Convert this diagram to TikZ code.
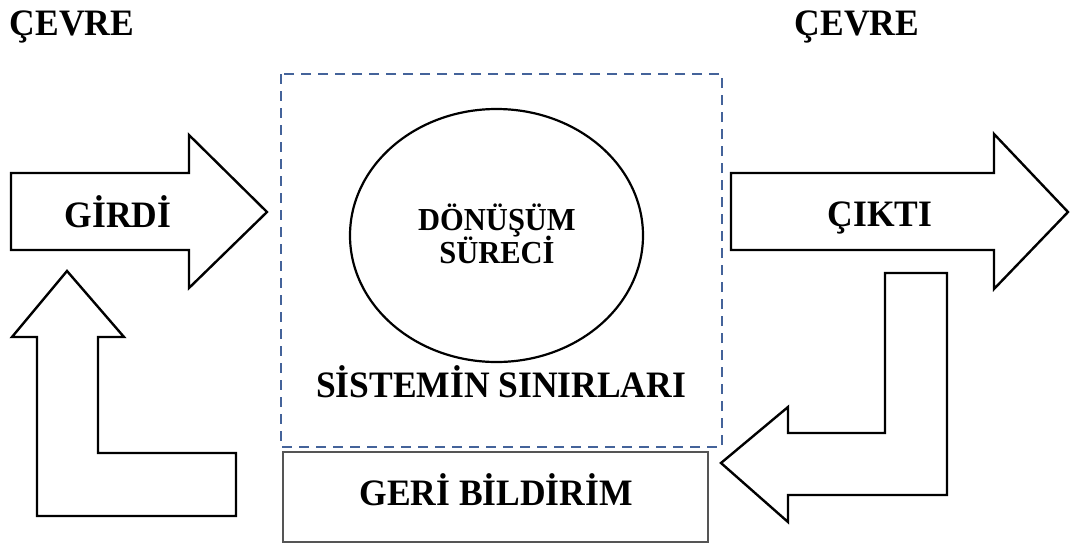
\documentclass[tikz,border=0pt]{standalone}
\usepackage{fontspec}
\setmainfont{Liberation Serif}
\usetikzlibrary{shapes.geometric}
\definecolor{dashblue}{HTML}{44639A}
\definecolor{boxgray}{HTML}{555555}
\tikzset{
  blockarrow/.style={draw=black, line width=2.4pt, fill=white, line join=miter},
  bigtxt/.style={font=\fontsize{35.5}{40}\selectfont\bfseries, anchor=base, inner sep=0pt, yscale=1.05},
  midtxt/.style={font=\fontsize{30.5}{33}\selectfont\bfseries, anchor=base, inner sep=0pt, yscale=1.05},
}
\begin{document}
\begin{tikzpicture}[x=1pt,y=-1pt]
\useasboundingbox (0,0) rectangle (1070,544);
% system boundary
\draw[dashblue, line width=2.3pt, dash pattern=on 10pt off 7pt] (281,74) rectangle (722,447);
% feedback box
\draw[boxgray, line width=1.5pt] (283,452) rectangle (708,542);
% transformation ellipse
\node[ellipse, draw, line width=2.2pt, minimum width=293pt, minimum height=253pt, inner sep=0pt] (donusum) at (496.5,235.5) {};
% input arrow
\draw[blockarrow] (11,173) -- (189,173) -- (189,135) -- (267,212) -- (189,288) -- (189,250) -- (11,250) -- cycle;
% left feedback L arrow
\draw[blockarrow] (236,516) -- (37,516) -- (37,337) -- (12,337) -- (67,271) -- (124,337) -- (98,337) -- (98,453) -- (236,453) -- cycle;
% output arrow
\draw[blockarrow] (731,173) -- (994,173) -- (994,134) -- (1068,212) -- (994,289) -- (994,250) -- (731,250) -- cycle;
% right feedback L arrow
\draw[blockarrow] (885,273) -- (947,273) -- (947,495) -- (788,495) -- (788,522) -- (721,463) -- (788,407) -- (788,433) -- (885,433) -- cycle;
% texts
\node[bigtxt] (cevre1) at (72,35) {ÇEVRE};
\node[bigtxt] (cevre2) at (857,35) {ÇEVRE};
\node[bigtxt] (girdi) at (118,227) {GİRDİ};
\node[bigtxt] (cikti) at (880,226) {ÇIKTI};
\node[midtxt] (d1) at (497,230) {DÖNÜŞÜM};
\node[midtxt] (d2) at (497,263) {SÜRECİ};
\node[bigtxt] (sinir) at (501,397) {SİSTEMİN SINIRLARI};
\node[bigtxt] (geri) at (496,505) {GERİ BİLDİRİM};
\end{tikzpicture}
\end{document}
